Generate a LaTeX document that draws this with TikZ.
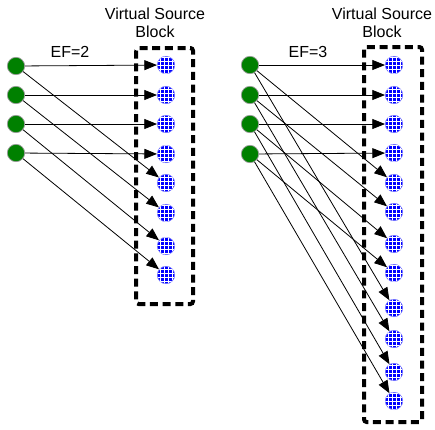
\documentclass[tikz,border=0pt]{standalone}
\usepackage{fontspec}
\setmainfont{Liberation Sans}
\usetikzlibrary{arrows.meta,patterns}

\begin{document}
\begin{tikzpicture}[
  x=0.75pt, y=-0.75pt,
  % --- nodes ---
  src/.style={circle, fill=green!50!black, draw=black!40, line width=0.5pt,
    minimum size=13pt, inner sep=0pt},
  vsrc/.style={circle, fill=blue, draw=blue!55, line width=0.5pt,
    minimum size=13pt, inner sep=0pt,
    postaction={pattern=grid, pattern color=white}},
  % --- block outline ---
  blk/.style={draw, line width=3pt, dash pattern=on 6pt off 3.5pt, rounded corners=2pt},
  % --- labels ---
  lbl/.style={font=\fontsize{12}{13.5}\selectfont, align=center, inner sep=0pt},
  % --- arrows ---
  arr/.style={-{Triangle[length=9.5pt, width=7.5pt]}, line width=0.6pt},
]
\useasboundingbox (0,0) rectangle (435,429);

% ===================== EF = 2 =====================

\draw[blk] (136,48) rectangle (193,304);
\node[lbl] (blkA) at (155,23) {Virtual Source\\Block};
\node[lbl] (efA) at (70,52) {EF=2};

\foreach \i/\y in {1/66, 2/95, 3/124, 4/153}
  \node[src] (s\i) at (16,\y) {};
\foreach \i/\y in {1/65, 2/95, 3/124, 4/154, 5/183, 6/213, 7/246, 8/275}
  \node[vsrc] (v\i) at (166,\y) {};

\foreach \i [evaluate=\i as \j using int(\i+4)] in {1,...,4} {
  \draw[arr] (s\i) -- (v\i);
  \draw[arr] (s\i) -- (v\j);
}

% ===================== EF = 3 =====================

\draw[blk] (364,47) rectangle (422,422);
\node[lbl] (blkB) at (382,23) {Virtual Source\\Block};
\node[lbl] (efB) at (308,52) {EF=3};

\foreach \i/\y in {1/65, 2/95, 3/124, 4/154}
  \node[src] (t\i) at (250,\y) {};
\foreach \i/\y in {1/65, 2/95, 3/124, 4/153, 5/183, 6/212, 7/244, 8/273,
                   9/308, 10/339, 11/372, 12/401}
  \node[vsrc] (w\i) at (394,\y) {};

\foreach \i [evaluate=\i as \j using int(\i+4),
             evaluate=\i as \k using int(\i+8)] in {1,...,4} {
  \draw[arr] (t\i) -- (w\i);
  \draw[arr] (t\i) -- (w\j);
  \draw[arr] (t\i) -- (w\k);
}

\end{tikzpicture}
\end{document}
